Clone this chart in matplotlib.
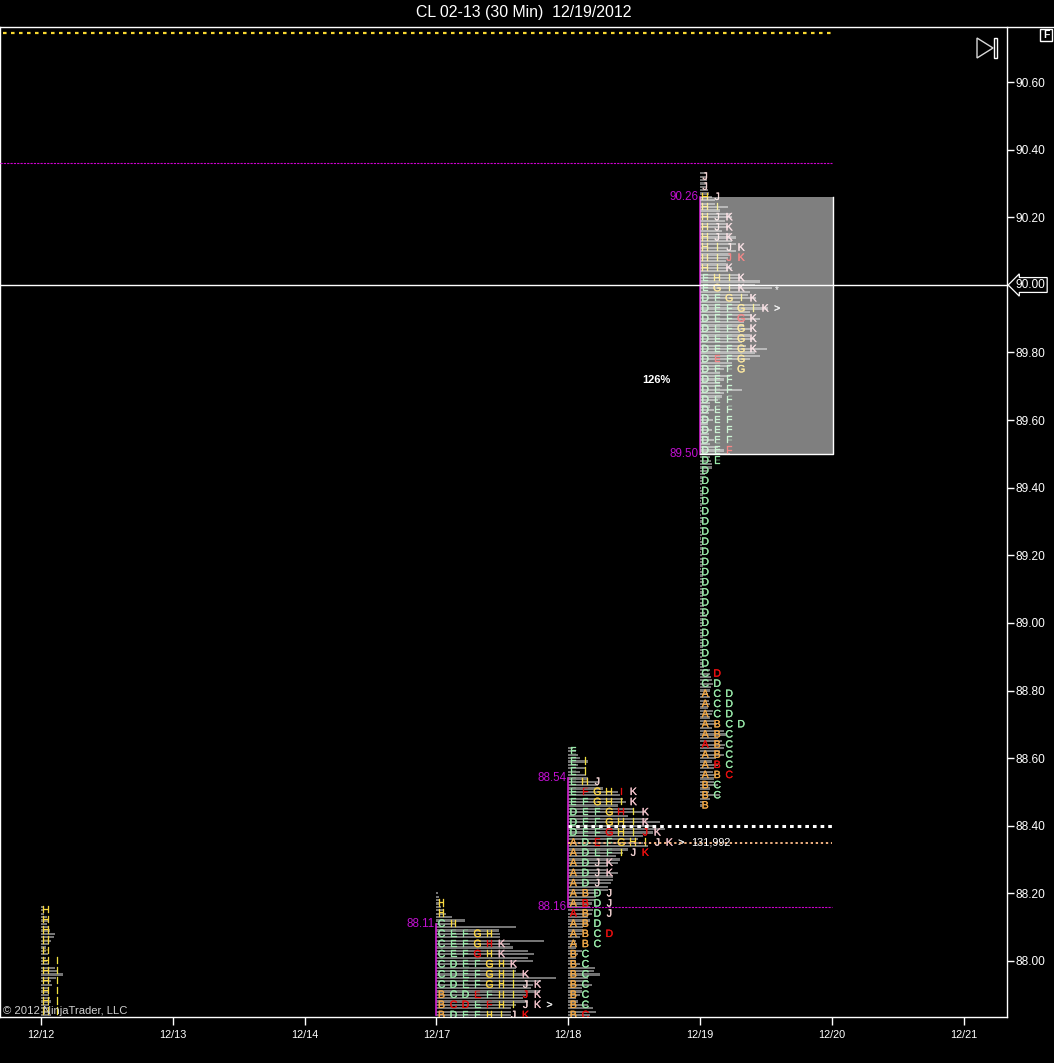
import matplotlib
matplotlib.use('Agg')
import matplotlib.pyplot as plt
import matplotlib.patheffects as pe
from matplotlib.lines import Line2D
from matplotlib.patches import Polygon, Rectangle

plt.rcParams['font.family'] = ['Liberation Sans', 'DejaVu Sans']

W, H = 1054, 1063
PX_DAY = 131.83
PX_PRICE = 338.0

dates = ['12/12', '12/13', '12/14', '12/17', '12/18', '12/19', '12/20', '12/21']
price_ticks = [88.00, 88.20, 88.40, 88.60, 88.80, 89.00, 89.20, 89.40, 89.60, 89.80, 90.00, 90.20, 90.40, 90.60]

# letters of every row, top row first. lower case = drawn red
top_1212 = 88.15
rows_1212 = ['H', 'H', 'H', 'H', 'H', 'HI', 'HI', 'HI', 'HI', 'HI', 'HI']
vols_1212 = [(2, 3, 3), (6, 7, 6), (8, 9, 14), (13, 10, 8), (5, 5, 7), (5, 6, 8),
             (14, 16, 22), (15, 10, 11), (7, 8, 8), (9, 10, 8), (8, 9, 10)]

top_1217 = 88.20
rows_1217 = ['', 'H', 'H', 'CH', 'CEFGH', 'CEFGhK', 'CEFgHK', 'CDEFGHK', 'CDEFGHIK',
             'CDEFGHIJK', 'BCDeFHIjK', 'BcdEfHIJK>', 'BDEFHIJk']
vols_1217 = [(0, 2, 3), (3, 4, 5), (8, 10, 16), (29, 20, 80), (63, 64, 64), (108, 74, 77),
             (92, 98, 92), (97, 77, 80), (80, 90, 120), (105, 97, 95), (104, 90, 87),
             (92, 80, 75), (75, 75, 67)]

top_1218 = 88.62
rows_1218 = ['E', 'EI', 'EI', 'EHJ', 'EfGHiK', 'EFGHIK', 'DEFGhIK', 'DEFGHIK', 'DEFgHIjK',
             'ADeFGHIJK>', 'ADEFIJk', 'ADJK', 'ADJK', 'ADJ', 'ABDJ', 'AbDJ', 'aBDJ', 'ABD',
             'ABCd', 'ABC', 'BC', 'BC', 'BC', 'BC', 'BC', 'BC', 'Bc']
vols_1218 = [(5, 8, 10), (12, 20, 10), (17, 12, 18), (20, 30, 30), (35, 50, 52), (55, 58, 50),
             (65, 78, 60), (80, 92, 85), (97, 85, 75), (70, 75, 80), (60, 55, 48), (52, 50, 40),
             (38, 50, 45), (45, 43, 40), (40, 30, 28), (26, 24, 22), (25, 24, 20), (22, 20, 15),
             (15, 14, 12), (8, 9, 8), (14, 10, 8), (8, 12, 27), (26, 32, 20), (20, 24, 14),
             (14, 12, 8), (10, 20, 25), (28, 22, 18)]

top_1219 = 90.32
rows_1219 = ['J', 'J', 'HJ', 'HI', 'HJK', 'HJK', 'HJK', 'HIJK', 'HIjk', 'HIK', 'EHIK', 'EGIK',
             'DEGIK', 'DEFGIK>', 'DEFgK', 'DEFGK', 'DEFGK', 'DEFGK', 'DeFG', 'DEFG',
             'DEF', 'DEF', 'DEF', 'DEF', 'DEF', 'DEF', 'DEF', 'DEf', 'DE',
             'D', 'D', 'D', 'D', 'D', 'D', 'D', 'D', 'D', 'D', 'D', 'D', 'D', 'D', 'D', 'D', 'D', 'D', 'D', 'D',
             'Cd', 'CD', 'ACD', 'ACD', 'ACD', 'ABCD', 'ABC', 'aBC', 'ABC', 'AbC', 'ABc', 'BC', 'BC', 'B']
vols_1219 = [(6, 6, 7), (7, 7, 8), (9, 12, 15), (15, 28, 20), (30, 32, 25), (26, 28, 22),
             (30, 36, 32), (36, 28, 36), (30, 28, 26), (26, 32, 28), (40, 42, 60), (55, 72, 50),
             (48, 56, 40), (60, 68, 50), (52, 60, 44), (44, 52, 40), (50, 55, 42), (46, 67, 55),
             (60, 50, 32), (30, 24, 20), (30, 24, 20), (22, 42, 24), (22, 18, 10), (10, 14, 9),
             (8, 13, 8), (8, 12, 9), (9, 14, 10), (18, 24, 30), (10, 11, 12),
             (12, 8, 5), (2, 3, 2), (1, 2, 3), (2, 1, 2), (1, 2, 1), (2, 3, 1), (2, 1, 2),
             (1, 2, 2), (3, 1, 2), (2, 3, 3), (1, 2, 3), (3, 4, 2), (2, 4, 3), (3, 3, 4),
             (2, 5, 7), (3, 4, 2), (2, 3, 3), (2, 2, 3), (3, 2, 2), (2, 3, 4),
             (10, 10, 11), (12, 13, 11), (10, 8, 10), (9, 10, 8), (13, 12, 10), (14, 17, 12),
             (24, 26, 18), (22, 25, 24), (20, 24, 16), (12, 18, 14), (13, 16, 14), (14, 18, 10),
             (9, 20, 10), (3, 2, 0)]

# value area low/high of each session, None when not marked
va_1212 = None
va_1217 = (87.84, 88.11)
va_1218 = (88.16, 88.54)
va_1219 = (89.50, 90.26)

letter_colors = {'A': '#f0a848', 'B': '#f0a848', 'C': '#98e8a8', 'D': '#98e8a8', 'E': '#98e8a8',
                 'F': '#98e8a8', 'G': '#f8d040', 'H': '#f8d840', 'I': '#f0e040', 'J': '#f0d0d0',
                 'K': '#f0c0c8', '>': '#e8e8e8'}


def fx(px):
    return px / W


def fy(py):
    return 1 - py / H


fig = plt.figure(figsize=(W / 100, H / 100), dpi=100, facecolor='black')
ax = fig.add_axes([0, 1 - 1017 / H, 1007 / W, 990 / H], facecolor='black')
ax.set_xlim(-41 / PX_DAY, (1007 - 41) / PX_DAY)
ax.set_ylim(88 - 56 / PX_PRICE, 90.6 + 55 / PX_PRICE)

sessions = [(0, top_1212, rows_1212, vols_1212, va_1212),
            (3, top_1217, rows_1217, vols_1217, va_1217),
            (4, top_1218, rows_1218, vols_1218, va_1218),
            (5, top_1219, rows_1219, vols_1219, va_1219)]

for day, top, rows, vols, va in sessions:
    for i, (row, vol) in enumerate(zip(rows, vols)):
        price = top - 0.03 * i
        for k, v in enumerate(vol):
            ax.barh(price + 0.01 - 0.01 * k, v / PX_DAY, height=2.2 / PX_PRICE, left=day,
                    color='#747474', linewidth=0, zorder=2)
        for j, ch in enumerate(row):
            col = '#e81010' if ch.islower() else letter_colors[ch]
            ax.text(day + (5 + 12 * j) / PX_DAY, price, ch.upper(), color=col, fontsize=7.6,
                    ha='center', va='center', zorder=3, clip_on=True,
                    path_effects=[pe.withStroke(linewidth=0.2, foreground=col)])
    if va:
        ax.plot([day, day], va, color='#d020d0', lw=1.2, zorder=2.6)
        for p in va:
            if p > 87.9:
                ax.text(day - 2 / PX_DAY, p, '%.2f' % p, color='#c010d0', fontsize=8.4,
                        ha='right', va='center', zorder=6)

# value area box of the last session, white at half strength on top of the letters
ax.add_patch(Rectangle((5, va_1219[0]), 1.0 + 1 / PX_DAY, va_1219[1] - va_1219[0],
                       facecolor=(1, 1, 1, 0.5), edgecolor='none', zorder=4))
ax.plot([6 + 1 / PX_DAY, 6 + 1 / PX_DAY, 5], [va_1219[1], va_1219[0], va_1219[0]], color='white', lw=1, zorder=5)

# level lines
ax.plot([-0.29, 6], [90.745, 90.745], color='#f8d830', lw=1.6, dashes=(1.6, 2.0), zorder=5)
ax.plot([-0.311, 6], [90.36, 90.36], color='#d000d0', lw=0.8, dashes=(2, 1), zorder=5)
ax.axhline(90.00, color='white', lw=1, zorder=5)
ax.plot([4, 6], [88.40, 88.40], color='white', lw=2.2, dashes=(1.2, 1.3), zorder=5)
ax.plot([4, 6], [88.35, 88.35], color='#f0b080', lw=1.4, dashes=(1.2, 1.4), zorder=5)
ax.plot([4, 6], [88.16, 88.16], color='#d000d0', lw=0.8, dashes=(2, 1), zorder=5)

ax.text((691 - 41) / PX_DAY, 88.35, '131,992', color='white', fontsize=7.8, va='center', ha='left', zorder=6)
ax.text((656 - 41) / PX_DAY, 89.72, '126%', color='white', fontsize=8, fontweight='bold',
        ha='center', va='center', zorder=6)
ax.text((777 - 41) / PX_DAY, 89.985, '*', color='white', fontsize=7, ha='center', va='center', zorder=6)
ax.text(-38 / PX_DAY, 88 - 53.5 / PX_PRICE, '© 2012 NinjaTrader, LLC', color='#d0d0d0', fontsize=8.1,
        ha='left', va='baseline', zorder=7)

ax.set_xticks(range(len(dates)))
ax.set_xticklabels(dates)
ax.yaxis.tick_right()
ax.set_yticks(price_ticks)
ax.set_yticklabels(['' if p == 90.00 else '%.2f' % p for p in price_ticks])
ax.tick_params(axis='x', colors='white', length=6, width=1, labelsize=7.8, pad=3)
ax.tick_params(axis='y', colors='white', length=5, width=1, labelsize=8.6, pad=1)
for name, sp in ax.spines.items():
    sp.set_color('white')
    sp.set_linewidth(1)
ax.spines['top'].set_visible(False)

fig.text(fx(1016), fy(285), '90.00', color='white', fontsize=8.6, ha='left', va='center',
         bbox=dict(boxstyle='larrow,pad=0.12', facecolor='black', edgecolor='white', lw=0.9))

# title, frame and the small chart controls
fig.text(fx(524), fy(13), 'CL 02-13 (30 Min)  12/19/2012', color='white', fontsize=11.4, ha='center', va='center')
fig.add_artist(Line2D([0, 1], [fy(27), fy(27)], color='white', lw=1))
fig.add_artist(Polygon([(fx(977), fy(38)), (fx(993), fy(48)), (fx(977), fy(58))], closed=True, fill=False,
                       edgecolor='#d8d8d8', lw=1))
fig.add_artist(Rectangle((fx(994), fy(58)), 3 / W, 20 / H, fill=False, edgecolor='white', lw=1))
fig.add_artist(Rectangle((fx(1040), fy(41)), 12 / W, 12 / H, fill=False, edgecolor='white', lw=1))
fig.text(fx(1046.5), fy(35), 'F', color='white', fontsize=7.5, fontweight='bold', ha='center', va='center')

fig.savefig('out.png', dpi=100, facecolor='black')
